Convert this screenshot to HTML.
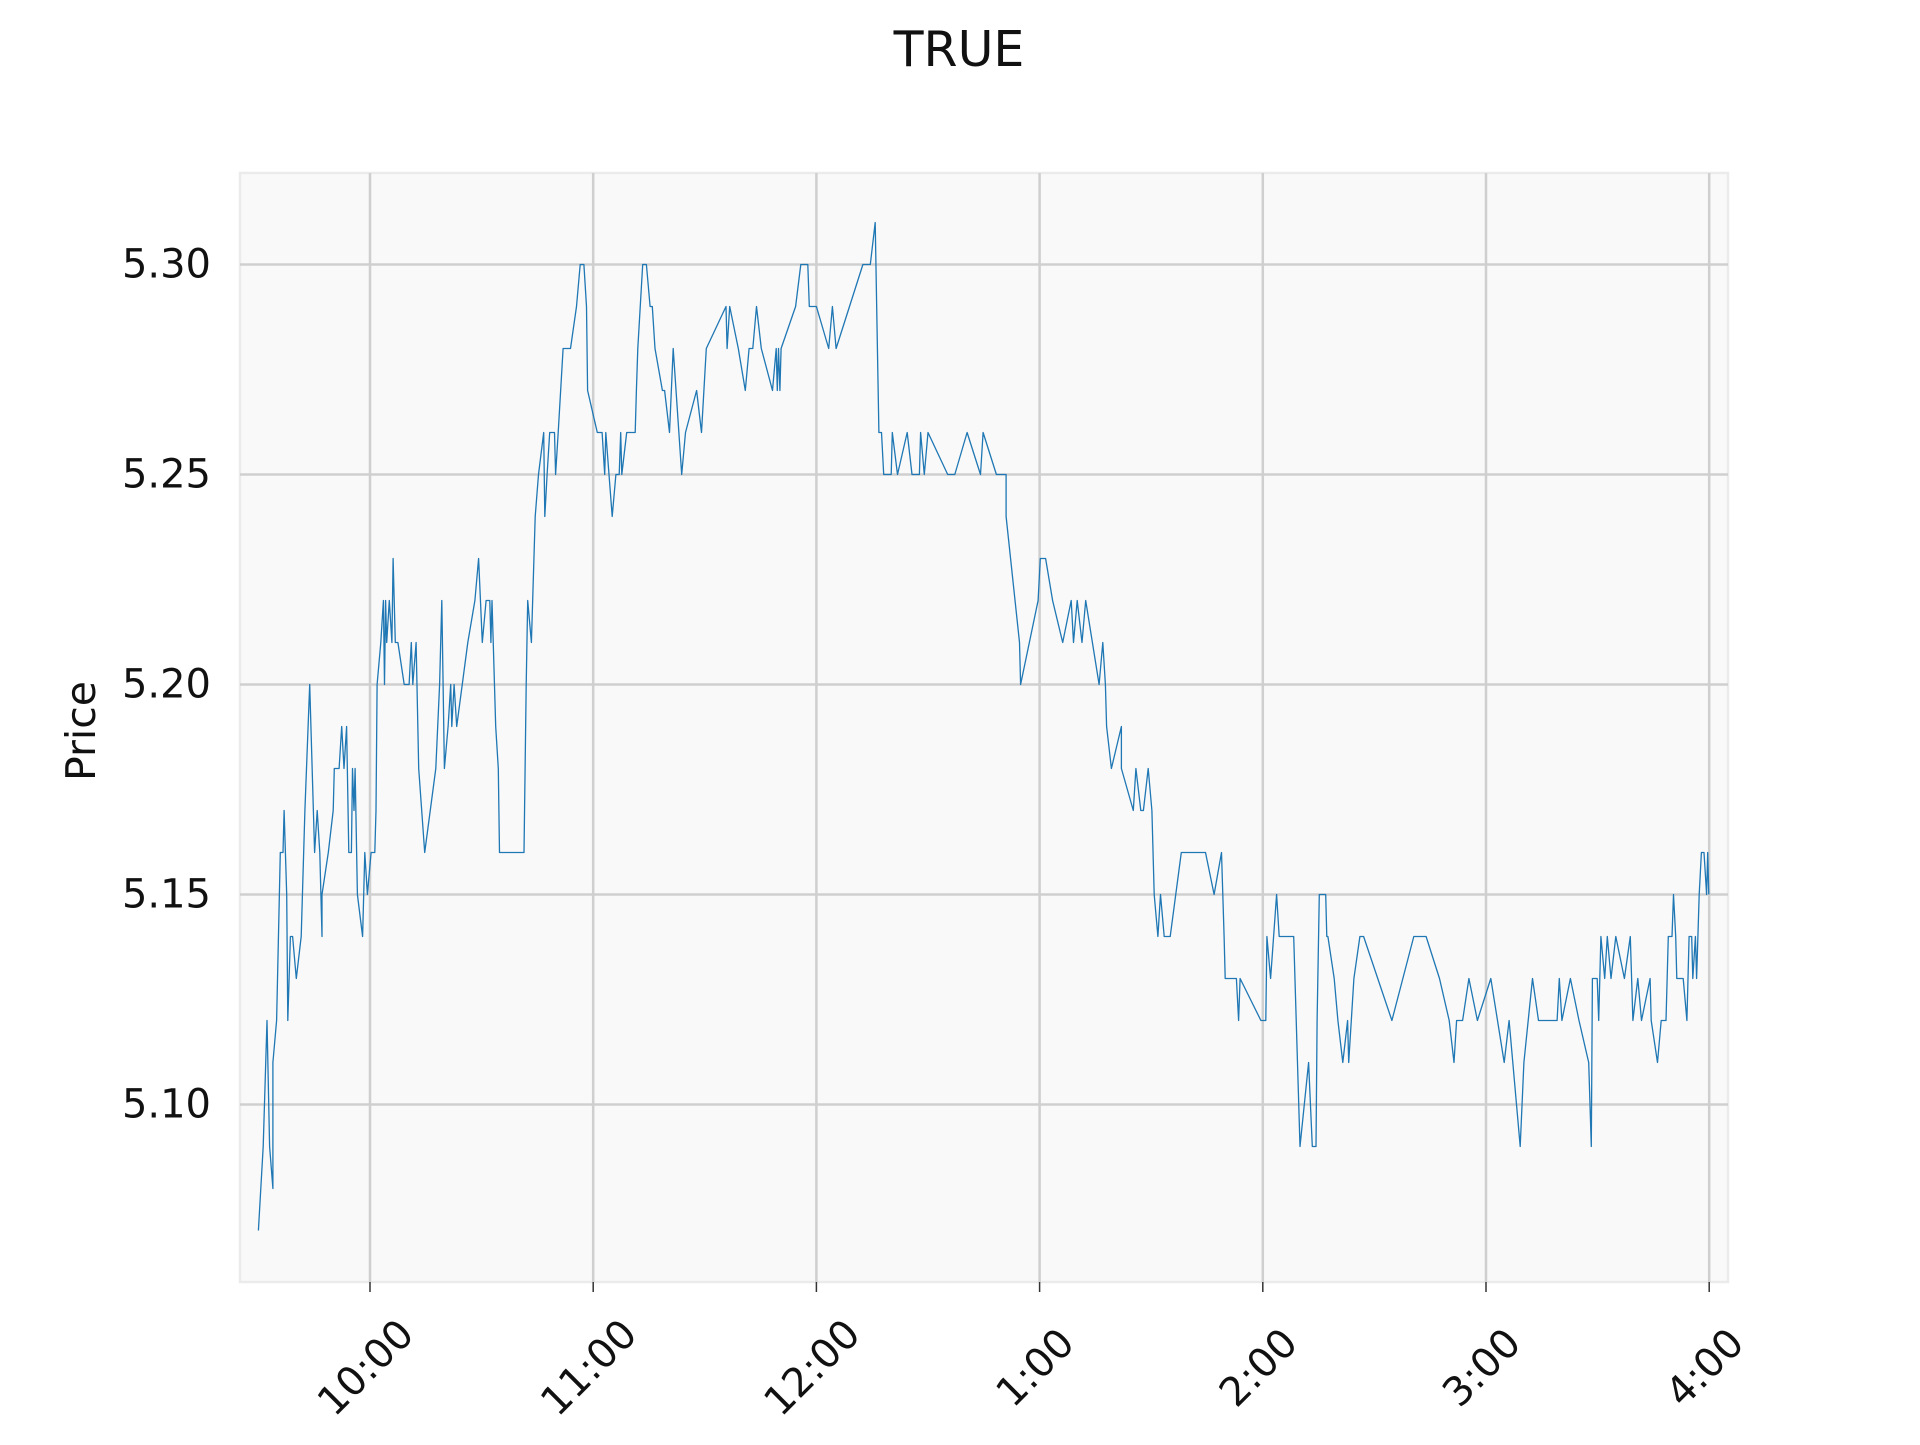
<!DOCTYPE html>
<html><head><meta charset="utf-8"><style>
body{margin:0;background:#fff;}
svg text{font-family:"DejaVu Sans","Liberation Sans",sans-serif;fill:#111;}
</style></head><body>
<svg id="chart" width="1920" height="1440" viewBox="0 0 1920 1440" xmlns="http://www.w3.org/2000/svg">
<rect width="1920" height="1440" fill="#fff"/>
<text x="959" y="66" font-size="49" text-anchor="middle">TRUE</text>
<rect x="240" y="173" width="1488" height="1109" fill="#f9f9f9" stroke="#ebebeb" stroke-width="2.5"/>
<g id="grid"></g>
<g id="axes"></g>
<path id="line" fill="none" stroke="#1f77b4" stroke-width="1.3" stroke-linejoin="round"/>
<text x="0" y="0" font-size="41" text-anchor="middle" transform="translate(95,731) rotate(-90)">Price</text>
</svg>
<script>
const minutes=[0,1.3,2.3,3,3.9,3.9,4.9,5.9,6.6,6.9,7.6,7.9,8.6,9.2,10.2,11.5,12.5,13.8,15.1,15.8,16.5,17.1,17.1,18.8,20.1,20.4,21.7,22.4,23,23.7,24.3,25,25.3,25.7,26,26.6,28,28.6,29.3,30.3,31.3,31.6,31.9,32.9,33.6,33.9,34.2,34.5,35.2,35.9,36.2,36.5,36.8,37.5,39.2,40.5,41.1,41.5,42.4,43.1,44.7,47.7,48.7,49.3,50,51,51.7,52,52.6,53.3,56.3,58.2,59.2,60.2,61.2,62.2,62.5,62.8,63.8,64.5,64.8,68.8,71.4,72,72.4,73.4,74.4,75.3,76.7,77,77.6,78.3,79.6,79.9,80.6,81.9,83.9,85.5,86.5,87.5,88.2,88.5,91.1,92.4,93.1,93.4,95.1,96.1,97,97.4,97.7,99,101.3,101.6,102,103.3,104.3,105.3,105.9,106.6,108.6,109.2,110.5,111.5,113.8,114.8,117.8,119.1,120.4,125.7,126,126.7,129,130.9,131.9,132.9,133.9,135.2,138.2,139.2,139.5,139.8,140.2,140.5,144.4,145.8,147.7,148.1,150,153.3,154.3,155.3,162.5,164.5,165.8,166.8,167.5,168.1,170.1,170.4,171.8,174.4,175.7,177.7,178,179,180,185.3,187.2,190.5,194.1,194.8,198.4,201,201,204.6,204.9,209.6,210.2,211.6,213.5,216.2,218.5,219.1,220.1,221.4,222.4,226,227,227.7,228,229.3,232,232,235.2,235.9,237.2,237.9,239.2,240.2,240.8,241.8,242.5,243.5,245.1,248.1,254.6,256.9,258.9,259.6,259.9,262.9,263.5,263.9,269.5,270.8,271.1,272.1,273.7,274.4,278.3,280,282.3,283.3,284.3,284.6,285.2,286.9,287.2,287.5,289.2,290.2,291.5,292.8,293.1,294.5,296.1,297.1,304.7,310.6,313.9,317.5,320.1,321.4,322.1,323.7,325.4,327.7,331.3,334.9,336.2,339.2,340.2,342.5,344.1,349.1,349.7,350.4,352.7,355,357.6,358.3,358.6,359.9,360.3,360.9,361.9,362.6,363.6,364.9,367.2,368.8,369.5,370.8,371.8,374.1,374.4,376.1,377.1,378.4,379,380,380.4,381,381.3,383,384,384.6,385.3,385.6,386.3,386.6,387.3,387.9,388.6,389.3,389.6,389.9];
const prices=[5.07,5.09,5.12,5.09,5.08,5.11,5.12,5.16,5.16,5.17,5.15,5.12,5.14,5.14,5.13,5.14,5.17,5.20,5.16,5.17,5.16,5.14,5.15,5.16,5.17,5.18,5.18,5.19,5.18,5.19,5.16,5.16,5.18,5.17,5.18,5.15,5.14,5.16,5.15,5.16,5.16,5.17,5.20,5.21,5.22,5.20,5.22,5.21,5.22,5.21,5.23,5.22,5.21,5.21,5.20,5.20,5.21,5.20,5.21,5.18,5.16,5.18,5.20,5.22,5.18,5.19,5.20,5.19,5.20,5.19,5.21,5.22,5.23,5.21,5.22,5.22,5.21,5.22,5.19,5.18,5.16,5.16,5.16,5.20,5.22,5.21,5.24,5.25,5.26,5.24,5.25,5.26,5.26,5.25,5.26,5.28,5.28,5.29,5.30,5.30,5.29,5.27,5.26,5.26,5.25,5.26,5.24,5.25,5.25,5.26,5.25,5.26,5.26,5.27,5.28,5.30,5.30,5.29,5.29,5.28,5.27,5.27,5.26,5.28,5.25,5.26,5.27,5.26,5.28,5.29,5.28,5.29,5.28,5.27,5.28,5.28,5.29,5.28,5.27,5.28,5.27,5.28,5.27,5.28,5.29,5.30,5.30,5.29,5.29,5.28,5.29,5.28,5.30,5.30,5.31,5.26,5.26,5.25,5.25,5.26,5.25,5.26,5.25,5.25,5.26,5.25,5.26,5.25,5.25,5.26,5.25,5.26,5.25,5.25,5.24,5.21,5.20,5.22,5.23,5.23,5.22,5.21,5.22,5.21,5.22,5.21,5.22,5.20,5.21,5.20,5.19,5.18,5.19,5.18,5.17,5.18,5.17,5.17,5.18,5.17,5.15,5.14,5.15,5.14,5.14,5.16,5.16,5.15,5.16,5.14,5.13,5.13,5.12,5.13,5.12,5.12,5.14,5.13,5.15,5.14,5.14,5.09,5.11,5.09,5.09,5.12,5.15,5.15,5.14,5.14,5.13,5.12,5.11,5.12,5.11,5.13,5.14,5.14,5.12,5.14,5.14,5.13,5.12,5.11,5.12,5.12,5.13,5.12,5.13,5.11,5.12,5.09,5.11,5.13,5.12,5.12,5.13,5.12,5.13,5.12,5.11,5.09,5.13,5.13,5.12,5.14,5.13,5.14,5.13,5.14,5.13,5.14,5.12,5.13,5.12,5.13,5.12,5.11,5.12,5.12,5.14,5.14,5.15,5.14,5.13,5.13,5.12,5.14,5.14,5.13,5.14,5.13,5.15,5.16,5.16,5.15,5.16,5.15];
const yTicks=[5.10,5.15,5.20,5.25,5.30];
const yTickLabels=["5.10","5.15","5.20","5.25","5.30"];
const xTicks=[30,90,150,210,270,330,390];
const xTickLabels=["10:00","11:00","12:00","1:00","2:00","3:00","4:00"];

const NS="http://www.w3.org/2000/svg";
function xs(m){return 370+(m-30)*3.72;}
function ys(p){return 264.5+(5.30-p)*4200;}
const grid=document.getElementById('grid'), axes=document.getElementById('axes');
function mk(tag,attrs,parent){const e=document.createElementNS(NS,tag);for(const k in attrs)e.setAttribute(k,attrs[k]);parent.appendChild(e);return e;}
yTicks.forEach((v,i)=>{
  const y=ys(v);
  const g=mk('line',{x1:240,x2:1728,y1:y,y2:y,stroke:'#cfcfcf','stroke-width':2.5},grid);
  
  
  const t=mk('text',{x:211,y:y,'font-size':40,'text-anchor':'end','dominant-baseline':'central'},axes);
  t.textContent=yTickLabels[i];
  
  
});
xTicks.forEach((v,i)=>{
  const x=xs(v);
  const g=mk('line',{x1:x,x2:x,y1:173,y2:1282,stroke:'#cfcfcf','stroke-width':2.5},grid);
  
  
  const tk=mk('line',{x1:x,x2:x,y1:1282,y2:1292,stroke:'#333','stroke-width':1.5},axes);
  
  
  const t=mk('text',{x:0,y:0,'font-size':40,'text-anchor':'middle','dominant-baseline':'central',transform:`translate(${x-4},1368) rotate(-45)`},axes);
  t.textContent=xTickLabels[i];
  
  
});
let d='';
minutes.forEach((m,i)=>{d+=(i?'L':'M')+xs(m).toFixed(1)+' '+ys(prices[i]).toFixed(1);});
document.getElementById('line').setAttribute('d',d);
</script>
</body></html>
